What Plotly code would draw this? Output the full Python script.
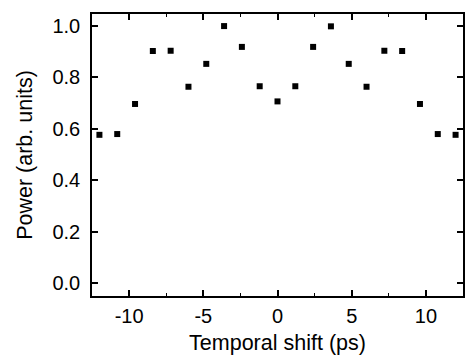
import plotly.graph_objects as go

shift_ps = [-12.0, -10.8, -9.6, -8.4, -7.2, -6.0, -4.8, -3.6, -2.4, -1.2, 0.0,
            1.2, 2.4, 3.6, 4.8, 6.0, 7.2, 8.4, 9.6, 10.8, 12.0]
power = [0.577, 0.580, 0.697, 0.903, 0.904, 0.764, 0.853, 1.000, 0.919, 0.766, 0.707,
         0.766, 0.919, 0.999, 0.853, 0.764, 0.904, 0.903, 0.697, 0.580, 0.577]

x_ticks = [-10, -5, 0, 5, 10]
y_ticks = [0.0, 0.2, 0.4, 0.6, 0.8, 1.0]

fig = go.Figure(go.Scatter(
    x=shift_ps, y=power, mode="markers",
    marker=dict(symbol="square", size=6, color="black", line=dict(width=0)),
))

tick_font = dict(family="Liberation Sans, Arial, sans-serif", size=20, color="black")
title_font = dict(family="Liberation Sans, Arial, sans-serif", size=21.5, color="black")
axis_common = dict(
    showline=True, linecolor="black", linewidth=1.5, mirror="allticks",
    ticks="inside", ticklen=6, tickwidth=1.5, tickcolor="black",
    showgrid=False, zeroline=False, tickfont=tick_font,
)

fig.update_xaxes(
    range=[-12.5, 12.5], tickvals=x_ticks, ticktext=[str(v) for v in x_ticks],
    title=dict(text="Temporal shift (ps)", font=title_font, standoff=9),
    minor=dict(dtick=2.5, tick0=0, ticks="inside", ticklen=3, tickwidth=1.2, tickcolor="black"),
    ticklabelstandoff=1,
    **axis_common,
)
fig.update_yaxes(
    range=[-0.05, 1.047], tickvals=y_ticks, ticktext=[f"{v:.1f}" for v in y_ticks],
    title=dict(text="Power (arb. units)", font=title_font, standoff=14),
    ticklabelstandoff=6,
    **axis_common,
)

fig.update_layout(
    width=468, height=360,
    margin=dict(l=92, r=3, t=14, b=64),
    plot_bgcolor="white", paper_bgcolor="white",
    showlegend=False, font=tick_font,
)

fig.write_html("out.html")
